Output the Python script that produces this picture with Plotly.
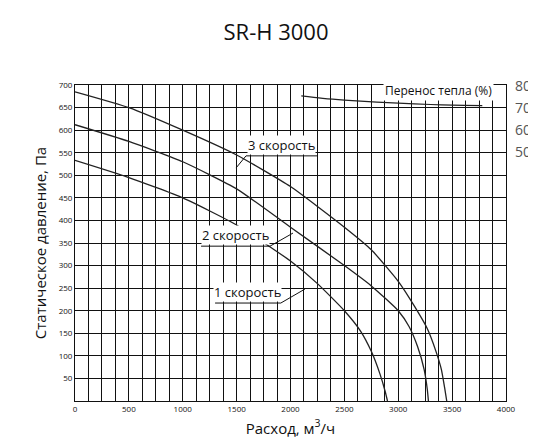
import plotly.graph_objects as go

x1 = [0, 500, 1000, 1500, 2000, 2250, 2500, 2650, 2750, 2830, 2880, 2900]
y1 = [533, 495, 450, 390, 310, 260, 200, 155, 110, 60, 20, 0]
x2 = [0, 500, 1000, 1500, 2000, 2500, 2750, 3000, 3100, 3180, 3240, 3270, 3280]
y2 = [612, 575, 530, 470, 385, 300, 255, 200, 165, 120, 70, 25, 0]
x3 = [0, 500, 1000, 1500, 2000, 2500, 2750, 3000, 3150, 3270, 3350, 3400, 3430, 3450]
y3 = [685, 650, 600, 545, 475, 385, 335, 265, 210, 160, 110, 70, 30, 0]
xh = [2100, 2300, 2500, 2800, 3000, 3300, 3500, 3780]
yh = [75.5, 74.4, 73.6, 72.7, 72.2, 71.6, 71.3, 71.1]

fig = go.Figure()
for xs, ys in [(x1, y1), (x2, y2), (x3, y3)]:
    fig.add_trace(go.Scatter(x=xs, y=ys, mode="lines", line=dict(color="#222", width=1.3, shape="spline", smoothing=0.5), showlegend=False))
fig.add_trace(go.Scatter(x=xh, y=yh, yaxis="y2", mode="lines", line=dict(color="#222", width=1.2, shape="spline"), showlegend=False))

# text, underline x0, x1, y, leader start x, leader end (x, y)
labels = [("3 скорость", 1587, 2255, 543, 1587, 1494, 516),
          ("2 скорость", 1170, 1810, 343, 1810, 2023, 372),
          ("1 скорость", 1300, 1910, 217, 1910, 2134, 248)]
for t, xa, xb, yu, xs0, xc, yc in labels:
    fig.add_annotation(x=(xa + xb) / 2, y=yu + 3, text=t, showarrow=False, yanchor="bottom",
                       font=dict(size=13, color="#111"), bgcolor="white", borderpad=0)
    fig.add_shape(type="line", x0=xa, x1=xb, y0=yu, y1=yu, line=dict(color="#111", width=1))
    fig.add_shape(type="line", x0=xs0, x1=xc, y0=yu, y1=yc, line=dict(color="#111", width=1))
fig.add_annotation(x=3370, y=665, text="Перенос тепла (%)", showarrow=False, yanchor="bottom",
                   font=dict(size=12, color="#111"), bgcolor="white", borderpad=1)

fig.update_layout(
    width=536, height=447, plot_bgcolor="white", paper_bgcolor="white",
    margin=dict(l=67, r=38, t=77, b=54, autoexpand=False),
    font=dict(family="Open Sans", color="#111"),
    title=dict(text="SR-H 3000", x=0.5, xanchor="center", y=0.945, yanchor="middle", font=dict(size=22)),
    xaxis=dict(range=[0, 4000], tickvals=list(range(0, 4001, 500)), showgrid=True, gridcolor="#111", gridwidth=1,
               minor=dict(dtick=125, showgrid=True, gridcolor="#111", gridwidth=1),
               showline=True, linecolor="#111", mirror=True, zeroline=False, tickfont=dict(size=8),
               automargin=False,
               title=dict(text="Расход, м<sup>3</sup>/ч", font=dict(size=15), standoff=10)),
    yaxis=dict(range=[0, 700], tickvals=list(range(0, 701, 50)), ticktext=[""] + [str(v) for v in range(50, 701, 50)],
               showgrid=True, gridcolor="#111", gridwidth=1, automargin=False,
               showline=True, linecolor="#111", mirror=True, zeroline=False, tickfont=dict(size=8),
               title=dict(text="Статическое давление, Па", font=dict(size=15), standoff=8)),
    yaxis2=dict(overlaying="y", side="right", range=[-63.6, 80.5], tickvals=[50, 60, 70, 80],
                showgrid=False, zeroline=False, automargin=False, ticklabelstandoff=8,
                tickfont=dict(size=14, color="#555")),
)
fig.write_html("out.html")
